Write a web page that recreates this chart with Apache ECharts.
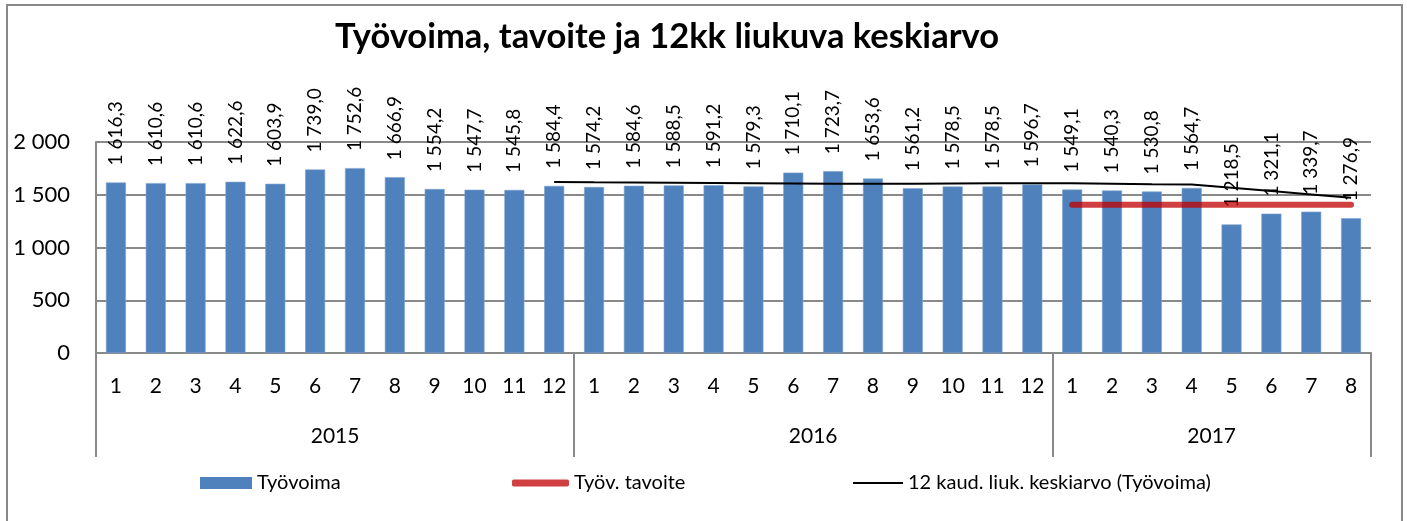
<!DOCTYPE html>
<html>
<head>
<meta charset="utf-8">
<script src="https://cdn.jsdelivr.net/npm/echarts@6/dist/echarts.min.js"></script>
<style>
  html, body { margin: 0; padding: 0; background: #fff; }
  #main { width: 1407px; height: 521px; }
</style>
</head>
<body>
<div id="main"></div>
<script>
var months = ['1','2','3','4','5','6','7','8','9','10','11','12',
  '1','2','3','4','5','6','7','8','9','10','11','12',
  '1','2','3','4','5','6','7','8'];
var years = ['2015', '2016', '2017'];
var yearMid = [6, 18, 28];
var yearEdges = [0, 12, 24, 32];

var tyovoima = [1616.3, 1610.6, 1610.6, 1622.6, 1603.9, 1739.0, 1752.6, 1666.9, 1554.2, 1547.7, 1545.8, 1584.4,
  1574.2, 1584.6, 1588.5, 1591.2, 1579.3, 1710.1, 1723.7, 1653.6, 1561.2, 1578.5, 1578.5, 1596.7,
  1549.1, 1540.3, 1530.8, 1564.7, 1218.5, 1321.1, 1339.7, 1276.9];
var tavoite = [null, null, null, null, null, null, null, null, null, null, null, null,
  null, null, null, null, null, null, null, null, null, null, null, null,
  1405, 1405, 1405, 1405, 1405, 1405, 1405, 1405];
var keskiarvo = [null, null, null, null, null, null, null, null, null, null, null, 1621.2,
  1617.7, 1615.5, 1613.7, 1611.1, 1609.0, 1606.6, 1604.2, 1603.1, 1603.7, 1606.3, 1609.0, 1610.0,
  1607.9, 1604.2, 1599.4, 1597.2, 1567.1, 1534.7, 1502.7, 1471.3];

var FONT = 'Lato';
var GRAY = '#898989';

function fmt(v) {
  var s = v.toFixed(1).replace('.', ',');
  var parts = s.split(',');
  var int = parts[0].replace(/\B(?=(\d{3})+(?!\d))/g, ' ');
  return int + ',' + parts[1];
}

var legendText = { fontFamily: FONT, fontSize: 20, color: '#000' };

var chart = echarts.init(document.getElementById('main'));
var option = {
  animation: false,
  textStyle: { fontFamily: FONT },
  title: {
    text: 'Työvoima, tavoite ja 12kk liukuva keskiarvo',
    left: 330,
    top: 14,
    textStyle: { fontFamily: FONT, fontSize: 34.5, fontWeight: 'bold', color: '#000' }
  },
  graphic: [{
    type: 'rect',
    shape: { x: 7, y: 5, width: 1395, height: 540 },
    style: { fill: 'none', stroke: GRAY, lineWidth: 2 },
    silent: true
  }],
  legend: [
    { data: [{ name: 'Työvoima', icon: 'rect', itemStyle: { borderWidth: 0 } }], left: 200, top: 473, itemWidth: 52, itemHeight: 12, itemGap: 3,
      padding: 0, textStyle: legendText },
    { data: [{ name: 'Työv. tavoite', icon: 'roundRect' }], left: 512, top: 473, itemWidth: 57, itemHeight: 7,
      padding: 0, textStyle: legendText },
    { data: [{ name: '12 kaud. liuk. keskiarvo (Työvoima)', icon: 'rect' }], left: 853, top: 473, itemWidth: 50, itemHeight: 2,
      padding: 0, textStyle: legendText }
  ],
  grid: { left: 96, right: 36, top: 142, bottom: 168 },
  xAxis: [{
    type: 'category',
    data: months,
    axisLine: { lineStyle: { color: GRAY, width: 2 } },
    axisTick: { show: false },
    axisLabel: { color: '#000', fontSize: 21, fontFamily: FONT, margin: 23, interval: 0 }
  }, {
    type: 'value',
    position: 'bottom',
    min: 0,
    max: 32,
    axisLine: { show: false },
    splitLine: { show: false },
    axisTick: { show: true, customValues: yearEdges, length: 104, lineStyle: { color: GRAY, width: 2 } },
    axisLabel: {
      customValues: yearMid,
      margin: 73,
      color: '#000',
      fontSize: 21,
      fontFamily: FONT,
      formatter: function (v) { return years[yearMid.indexOf(v)]; }
    }
  }],
  yAxis: {
    type: 'value',
    min: 0,
    max: 2000,
    interval: 500,
    axisLine: { show: true, lineStyle: { color: GRAY, width: 2 } },
    axisTick: { show: false },
    splitLine: { lineStyle: { color: GRAY, width: 2 } },
    axisLabel: {
      color: '#000', fontSize: 22, fontFamily: FONT, margin: 26,
      formatter: function (v) { return String(v).replace(/\B(?=(\d{3})+(?!\d))/g, ' '); }
    }
  },
  series: [{
    name: 'Työvoima',
    type: 'bar',
    data: tyovoima,
    barWidth: 20,
    itemStyle: { color: '#4f81bd', borderColor: '#7ea2cf', borderWidth: 0.6 },
    label: {
      show: true,
      position: 'top',
      rotate: 90,
      align: 'left',
      verticalAlign: 'middle',
      distance: 17,
      color: '#000',
      fontFamily: FONT,
      fontSize: 19,
      formatter: function (p) { return fmt(p.value); }
    },
    z: 2
  }, {
    name: 'Työv. tavoite',
    type: 'line',
    data: tavoite,
    symbol: 'none',
    lineStyle: { color: 'rgba(192,0,0,0.75)', width: 6, cap: 'round' },
    itemStyle: { color: 'rgba(200,30,30,0.85)' },
    z: 4
  }, {
    name: '12 kaud. liuk. keskiarvo (Työvoima)',
    type: 'line',
    data: keskiarvo,
    symbol: 'none',
    lineStyle: { color: '#000', width: 2 },
    itemStyle: { color: '#000' },
    z: 5
  }]
};
chart.setOption(option);
</script>
</body>
</html>
